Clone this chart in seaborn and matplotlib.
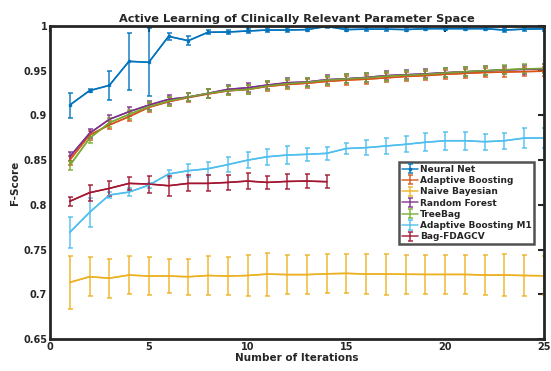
import numpy as np
import pandas as pd
import matplotlib
matplotlib.use("Agg")
import matplotlib.pyplot as plt
import seaborn as sns

iters = list(range(1, 26))
nn = [0.9116, 0.9277, 0.9336, 0.9605, 0.9594, 0.9884, 0.9836, 0.9930, 0.9933, 0.9944,
      0.9955, 0.9955, 0.9960, 0.9995, 0.9960, 0.9965, 0.9965, 0.9960, 0.9970, 0.9970,
      0.9970, 0.9970, 0.9955, 0.9965, 0.9968]
nn_err = [0.014, 0.002, 0.016, 0.032, 0.038, 0.004, 0.005, 0.002, 0.002, 0.002,
          0.002, 0.002, 0.002, 0.002, 0.002, 0.002, 0.002, 0.002, 0.002, 0.002,
          0.002, 0.002, 0.002, 0.002, 0.002]
ab = [0.8500, 0.8780, 0.8893, 0.8986, 0.9090, 0.9153, 0.9200, 0.9240, 0.9275, 0.9290,
      0.9325, 0.9345, 0.9360, 0.9380, 0.9395, 0.9405, 0.9420, 0.9435, 0.9445, 0.9460,
      0.9470, 0.9480, 0.9485, 0.9490, 0.9495]
ab_err = [0.005] * 25
nb = [0.7133, 0.7196, 0.7180, 0.7215, 0.7204, 0.7204, 0.7196, 0.7210, 0.7204, 0.7210,
      0.7226, 0.7220, 0.7220, 0.7229, 0.7234, 0.7226, 0.7226, 0.7224, 0.7222, 0.7222,
      0.7222, 0.7215, 0.7215, 0.7210, 0.7207]
nb_err = [0.030, 0.022, 0.022, 0.021, 0.021, 0.019, 0.020, 0.022, 0.021, 0.023,
          0.024, 0.022, 0.022, 0.022, 0.022, 0.022, 0.023, 0.022, 0.022, 0.022,
          0.022, 0.022, 0.023, 0.023, 0.022]
rf = [0.8538, 0.8800, 0.8956, 0.9042, 0.9116, 0.9180, 0.9206, 0.9247, 0.9292, 0.9310,
      0.9340, 0.9366, 0.9374, 0.9400, 0.9410, 0.9425, 0.9445, 0.9455, 0.9465, 0.9478,
      0.9488, 0.9498, 0.9508, 0.9515, 0.9520]
rf_err = [0.005] * 25
tb = [0.8440, 0.8744, 0.8918, 0.9012, 0.9098, 0.9160, 0.9206, 0.9247, 0.9277, 0.9290,
      0.9330, 0.9355, 0.9370, 0.9395, 0.9408, 0.9420, 0.9440, 0.9450, 0.9460, 0.9475,
      0.9488, 0.9500, 0.9510, 0.9520, 0.9525]
tb_err = [0.005] * 25
abm1 = [0.7692, 0.7916, 0.8110, 0.8143, 0.8220, 0.8345, 0.8382, 0.8404, 0.8450, 0.8500,
        0.8538, 0.8557, 0.8565, 0.8576, 0.8630, 0.8640, 0.8658, 0.8677, 0.8700, 0.8717,
        0.8717, 0.8706, 0.8717, 0.8747, 0.8747]
abm1_err = [0.017, 0.016, 0.003, 0.004, 0.003, 0.005, 0.007, 0.007, 0.008, 0.009,
            0.009, 0.010, 0.007, 0.007, 0.006, 0.008, 0.009, 0.009, 0.010, 0.010,
            0.010, 0.009, 0.009, 0.011, 0.011]
bag = [0.8040, 0.8136, 0.8184, 0.8240, 0.8233, 0.8214, 0.8240, 0.8240, 0.8251, 0.8266,
       0.8251, 0.8262, 0.8266, 0.8259]
bag_err = [0.005, 0.009, 0.008, 0.007, 0.0095, 0.011, 0.009, 0.009, 0.008, 0.009,
           0.007, 0.008, 0.008, 0.007]

names = ["Neural Net", "Adaptive Boosting", "Naive Bayesian", "Random Forest",
         "TreeBag", "Adaptive Boosting M1", "Bag-FDAGCV"]
series = [(nn, nn_err), (ab, ab_err), (nb, nb_err), (rf, rf_err),
          (tb, tb_err), (abm1, abm1_err), (bag, bag_err)]
colors = ["#0072BD", "#D95319", "#EDB120", "#7E2F8E", "#77AC30", "#4DBEEE", "#A2142F"]

rows = []
for name, (vals, errs) in zip(names, series):
    for i, (v, e) in enumerate(zip(vals, errs)):
        rows.append({"Iteration": iters[i], "F": v, "err": e, "Model": name})
df = pd.DataFrame(rows)

sns.set_theme(style="white")
plt.rcParams["font.family"] = ["DejaVu Sans"]
plt.rcParams["font.weight"] = "bold"

fig = plt.figure(figsize=(5.51, 3.71), dpi=100)
ax = fig.add_axes([50 / 551, 1 - 339 / 371, 494 / 551, 313 / 371])

palette = dict(zip(names, colors))
sns.lineplot(data=df, x="Iteration", y="F", hue="Model", palette=palette,
             hue_order=names, ax=ax, legend=False, linewidth=1.1, errorbar=None)

handles = []
for name, c in zip(names, colors):
    sub = df[df["Model"] == name]
    h = ax.errorbar(sub["Iteration"], sub["F"], yerr=sub["err"], color=c,
                    linewidth=1.1, elinewidth=1.1, capsize=1.8, capthick=1.1,
                    marker="s" if name == "Neural Net" else None, markersize=2,
                    alpha=0.9)
    handles.append(h)

ax.set_xlim(0, 25)
ax.set_ylim(0.65, 1.0)
ax.set_xticks([0, 5, 10, 15, 20, 25])
yt = [0.65, 0.7, 0.75, 0.8, 0.85, 0.9, 0.95, 1.0]
ax.set_yticks(yt)
ax.set_yticklabels([f"{v:g}" for v in yt])
ax.tick_params(direction="in", length=4, width=1.5, top=True, right=True,
               labelsize=7, pad=2, colors="#262626")
for lab in ax.get_xticklabels() + ax.get_yticklabels():
    lab.set_fontweight("bold")
for s in ax.spines.values():
    s.set_linewidth(2)
    s.set_color("#262626")

ax.set_title("Active Learning of Clinically Relevant Parameter Space",
             fontsize=8.2, fontweight="bold", pad=3)
ax.set_xlabel("Number of Iterations", fontsize=7.5, fontweight="bold", labelpad=1)
ax.set_ylabel("F-Score", fontsize=7.5, fontweight="bold", labelpad=2)

leg = ax.legend(handles, names, loc="upper right", bbox_to_anchor=(0.98, 0.565),
                fontsize=6.5, frameon=True, fancybox=False, handlelength=1.8,
                handletextpad=0.2, borderpad=0.3, labelspacing=0.25,
                borderaxespad=0)
leg.get_frame().set_edgecolor("#262626")
leg.get_frame().set_linewidth(1.8)
for t in leg.get_texts():
    t.set_fontweight("bold")

fig.savefig("out.png", dpi=100)
